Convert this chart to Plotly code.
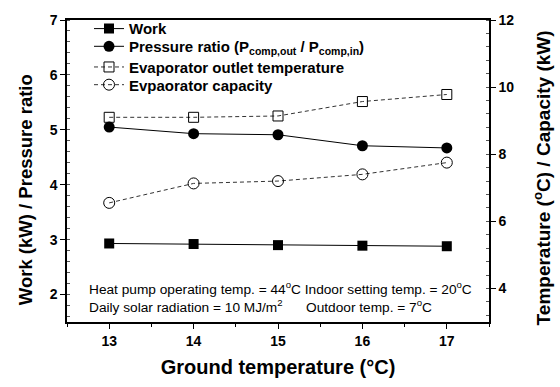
import plotly.graph_objects as go

ground_temp = [13, 14, 15, 16, 17]
work = [2.93, 2.92, 2.90, 2.89, 2.88]
pressure_ratio = [5.05, 4.93, 4.91, 4.71, 4.67]
evap_outlet_temp = [9.10, 9.10, 9.14, 9.57, 9.78]
evap_capacity = [6.55, 7.13, 7.20, 7.40, 7.75]

FONT = "Arial, Liberation Sans, sans-serif"

fig = go.Figure()
fig.add_trace(go.Scatter(
    x=ground_temp, y=work, name="<b>Work</b>", mode="lines+markers", legend="legend",
    line=dict(color="black", width=1),
    marker=dict(symbol="square", size=10, color="black"),
))
fig.add_trace(go.Scatter(
    x=ground_temp, y=pressure_ratio, legend="legend2",
    name="<b>Pressure ratio (P<sub>comp,out</sub> / P<sub>comp,in</sub>)</b>",
    mode="lines+markers",
    line=dict(color="black", width=1),
    marker=dict(symbol="circle", size=11, color="black"),
))
fig.add_trace(go.Scatter(
    x=ground_temp, y=evap_outlet_temp, name="<b>Evaporator outlet temperature</b>",
    mode="lines+markers", yaxis="y2", legend="legend3",
    line=dict(color="#333333", width=1, dash="4px,3px"),
    marker=dict(symbol="square-open", size=10, color="black", line=dict(width=1)),
))
fig.add_trace(go.Scatter(
    x=ground_temp, y=evap_capacity, name="<b>Evpaorator capacity</b>",
    mode="lines+markers", yaxis="y2", legend="legend4",
    line=dict(color="#333333", width=1, dash="4px,3px"),
    marker=dict(symbol="circle-open", size=11, color="black", line=dict(width=1)),
))

tickfont = dict(family=FONT, size=14, color="black")


def px_x(px):
    return (px - 67) / 422.0


def px_y(py):
    return (322 - py) / 307.0


leg_font = dict(family=FONT, size=15, color="black")


def leg(py):
    return dict(x=px_x(89), y=px_y(py), xanchor="left", yanchor="middle",
                bgcolor="rgba(0,0,0,0)", font=leg_font, itemwidth=30,
                borderwidth=0)


fig.update_layout(
    width=560, height=387,
    margin=dict(l=67, r=71, t=15, b=65),
    paper_bgcolor="white", plot_bgcolor="white",
    font=dict(family=FONT, color="black"),
    showlegend=True,
    legend=leg(24),
    legend2=leg(42),
    legend3=leg(63),
    legend4=leg(81),
    xaxis=dict(
        range=[12.5, 17.5], tickvals=ground_temp, ticktext=["<b>%d</b>" % v for v in ground_temp],
        ticks="outside", ticklen=5, tickwidth=1, tickcolor="black",
        minor=dict(dtick=0.5, tick0=12.5, ticks="outside", ticklen=3, tickcolor="black"),
        showline=True, linecolor="black", linewidth=1.5, mirror=True,
        showgrid=False, zeroline=False, tickfont=tickfont, automargin=False,
        title=dict(text="<b>Ground temperature (°C)</b>",
                   font=dict(family=FONT, size=20, color="black"), standoff=12),
    ),
    yaxis=dict(
        range=[1.5, 7], tickvals=[2, 3, 4, 5, 6, 7], ticktext=["<b>%d</b>" % v for v in [2, 3, 4, 5, 6, 7]],
        ticks="outside", ticklen=5, tickwidth=1, tickcolor="black",
        minor=dict(dtick=0.2, tick0=0, ticks="inside", ticklen=3, tickcolor="#555555"),
        showline=True, linecolor="black", linewidth=1.5,
        showgrid=False, zeroline=False, tickfont=tickfont, automargin=False,
    ),
    yaxis2=dict(
        range=[3, 12], overlaying="y", side="right",
        tickvals=[4, 6, 8, 10, 12], ticktext=["<b>%d</b>" % v for v in [4, 6, 8, 10, 12]],
        ticks="outside", ticklen=5, tickwidth=1, tickcolor="black",
        minor=dict(dtick=0.4, tick0=0, ticks="inside", ticklen=3, tickcolor="#555555"),
        showline=True, linecolor="black", linewidth=1.5,
        showgrid=False, zeroline=False, tickfont=tickfont, automargin=False,
    ),
)

# y-axis titles
fig.add_annotation(x=px_x(25), y=px_y(188), xref="paper", yref="paper", xanchor="center", yanchor="middle",
                   showarrow=False, textangle=-90, font=dict(family=FONT, size=18.5, color="black"),
                   text="<b>Work (kW) / Pressure ratio</b>")
fig.add_annotation(x=px_x(542), y=px_y(176), xref="paper", yref="paper", xanchor="center", yanchor="middle",
                   showarrow=False, textangle=-90, font=dict(family=FONT, size=19, color="black"),
                   text="<b>Temperature (<sup>o</sup>C) / Capacity (kW)</b>")

ann_font = dict(family=FONT, size=13.7, color="black")

fig.add_annotation(x=px_x(87), y=px_y(287), xref="paper", yref="paper", xanchor="left", yanchor="middle",
                   showarrow=False, font=ann_font,
                   text="Heat pump operating temp. = 44<sup>o</sup>C Indoor setting temp. = 20<sup>o</sup>C")
fig.add_annotation(x=px_x(87), y=px_y(306), xref="paper", yref="paper", xanchor="left", yanchor="middle",
                   showarrow=False, font=ann_font,
                   text="Daily solar radiation = 10 MJ/m<sup>2</sup>")
fig.add_annotation(x=px_x(304), y=px_y(306), xref="paper", yref="paper", xanchor="left", yanchor="middle",
                   showarrow=False, font=ann_font,
                   text="Outdoor temp. = 7<sup>o</sup>C")

fig.write_html("out.html", config={"displayModeBar": False})

# remove the default page margin so the figure sits at the window's top-left corner
with open("out.html", "r", encoding="utf-8") as f:
    html = f.read()
html = html.replace("<head>", "<head><style>html,body{margin:0;padding:0;overflow:hidden;}</style>", 1)
with open("out.html", "w", encoding="utf-8") as f:
    f.write(html)
